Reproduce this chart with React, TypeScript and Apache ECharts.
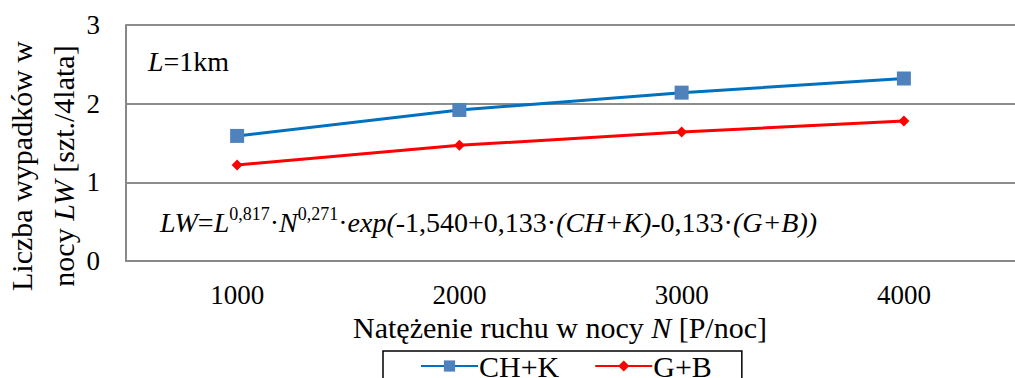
import React, { useEffect, useRef } from "react";
import * as echarts from "echarts";

const categories = ["1000", "2000", "3000", "4000"];
const chkValues = [1.59, 1.92, 2.14, 2.32];
const gbValues = [1.22, 1.47, 1.64, 1.78];
const yTicks = { min: 0, max: 3, interval: 1 };

const FONT = "Liberation Serif";

export default function App() {
  const ref = useRef<HTMLDivElement>(null);
  useEffect(() => {
    if (!ref.current) return;
    const chart = echarts.init(ref.current, null, { renderer: "svg" });
    chart.setOption({
      animation: false,
      backgroundColor: "#fff",
      textStyle: { fontFamily: FONT },
      grid: { left: 126, top: 25, width: 900, height: 236, containLabel: false },
      xAxis: {
        type: "category",
        data: categories,
        boundaryGap: true,
        axisLine: { show: true, lineStyle: { color: "#888", width: 2 } },
        axisTick: { show: false },
        axisLabel: { color: "#000", fontFamily: FONT, fontSize: 27, margin: 20 },
      },
      yAxis: {
        type: "value",
        min: yTicks.min,
        max: yTicks.max,
        interval: yTicks.interval,
        axisLine: { show: true, lineStyle: { color: "#888", width: 2 } },
        axisTick: { show: false },
        splitLine: { show: true, lineStyle: { color: "#8c8c8c", width: 2 } },
        axisLabel: { color: "#000", fontFamily: FONT, fontSize: 27, margin: 26 },
      },
      legend: {
        left: 383,
        top: 351,
        orient: "horizontal",
        data: ["CH+K", "G+B"],
        borderColor: "#000",
        borderWidth: 1.5,
        padding: [0, 30, 14, 37],
        itemWidth: 57,
        itemHeight: 14,
        itemGap: 35,
        textStyle: { color: "#000", fontFamily: FONT, fontSize: 30, padding: [0, 0, 0, -4] },
      },
      series: [
        {
          name: "CH+K",
          type: "line",
          data: chkValues,
          symbol: "rect",
          symbolSize: 14,
          lineStyle: { color: "#0070C0", width: 3 },
          itemStyle: { color: "#4F81BD" },
        },
        {
          name: "G+B",
          type: "line",
          data: gbValues,
          symbol: "diamond",
          symbolSize: 11,
          lineStyle: { color: "#FF0000", width: 3 },
          itemStyle: { color: "#FF0000" },
        },
      ],
      graphic: [
        {
          type: "text",
          left: 148,
          top: 47,
          style: {
            text: "{i|L}{n|=1km}",
            rich: {
              i: { fontFamily: FONT, fontSize: 28, fontStyle: "italic", fill: "#000" },
              n: { fontFamily: FONT, fontSize: 28, fill: "#000" },
            },
          },
        },
        {
          type: "text",
          left: 160,
          top: 205,
          style: {
            text:
              "{i|LW}{n|=}{i|L}{s|0,817}{n|·}{i|N}{s|0,271}{n|·}{i|exp(}{n|-1,540+0,133·}{i|(CH+K)}{n|-0,133·}{i|(G+B))}",
            rich: {
              i: { fontFamily: FONT, fontSize: 28, fontStyle: "italic", fill: "#000", lineHeight: 34 },
              n: { fontFamily: FONT, fontSize: 28, fill: "#000", lineHeight: 34 },
              s: { fontFamily: FONT, fontSize: 18, fill: "#000", verticalAlign: "top", lineHeight: 20 },
            },
          },
        },
        {
          type: "text",
          x: 42,
          y: 166,
          rotation: Math.PI / 2,
          style: {
            text: "{n|Liczba wypadków w}\n{n|nocy }{i|LW}{n| [szt./4lata]}",
            align: "center",
            verticalAlign: "middle",
            rich: {
              i: { fontFamily: FONT, fontSize: 30, fontStyle: "italic", fill: "#000", lineHeight: 42, align: "center" },
              n: { fontFamily: FONT, fontSize: 30, fill: "#000", lineHeight: 42, align: "center" },
            },
          },
        },
        {
          type: "text",
          x: 560,
          y: 327,
          style: {
            text: "{n|Natężenie ruchu w nocy }{i|N}{n| [P/noc]}",
            align: "center",
            verticalAlign: "middle",
            rich: {
              i: { fontFamily: FONT, fontSize: 30, fontStyle: "italic", fill: "#000" },
              n: { fontFamily: FONT, fontSize: 30, fill: "#000" },
            },
          },
        },
      ],
    });
    return () => chart.dispose();
  }, []);
  return <div ref={ref} style={{ width: 1015, height: 378, position: "absolute", left: 0, top: 0 }} />;
}
